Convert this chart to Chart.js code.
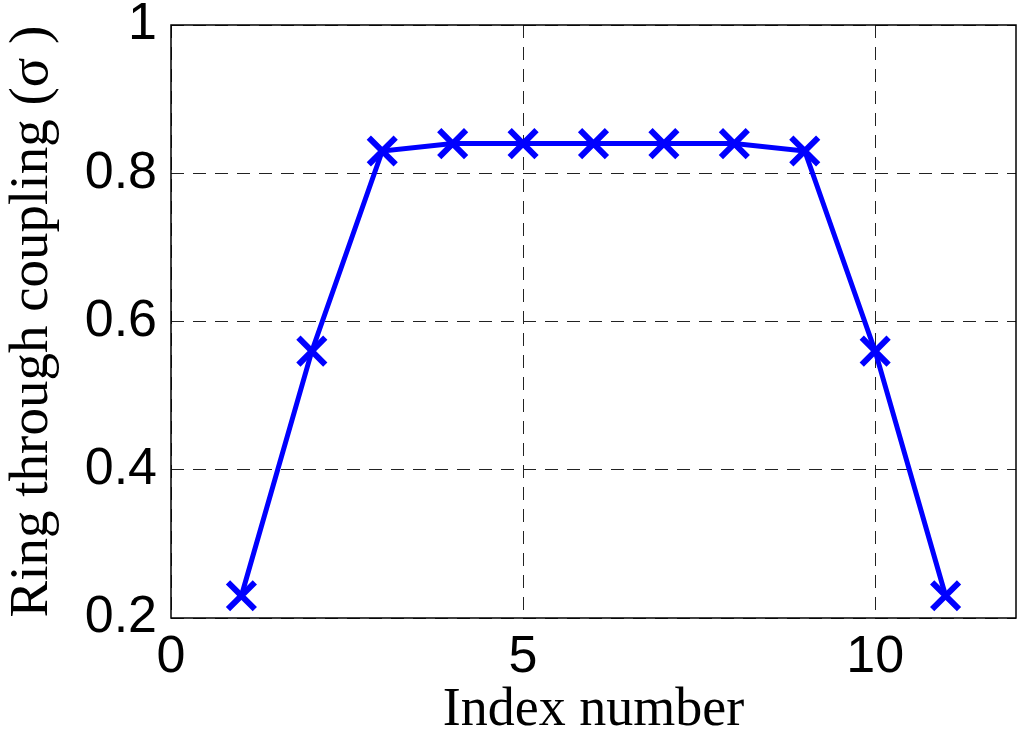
<!DOCTYPE html>
<html>
<head>
<meta charset="utf-8">
<script src="https://cdn.jsdelivr.net/npm/chart.js@4/dist/chart.umd.min.js"></script>
<style>
  html, body { margin: 0; padding: 0; background: #fff; overflow: hidden; }
  /* a bit wider than the window so the plot box reaches the right edge like the original */
  #wrap { width: 1041px; height: 743px; position: relative; }
</style>
</head>
<body>
<div id="wrap"><canvas id="ringChart"></canvas></div>
<script>
// data
const indexNumbers = [1, 2, 3, 4, 5, 6, 7, 8, 9, 10, 11];
const sigmaValues = [0.23, 0.56, 0.83, 0.84, 0.84, 0.84, 0.84, 0.84, 0.83, 0.56, 0.23];
const xTickValues = [0, 5, 10];
const yTickValues = [0.2, 0.4, 0.6, 0.8, 1];

// frame round the plot area (MATLAB style box)
const boxPlugin = {
    id: 'box',
    afterDraw(chart) {
        const a = chart.chartArea;
        const ctx = chart.ctx;
        ctx.save();
        ctx.strokeStyle = '#000';
        ctx.lineWidth = 1.5;
        ctx.strokeRect(a.left, a.top, a.right - a.left, a.bottom - a.top);
        ctx.restore();
    }
};

const ctx = document.getElementById('ringChart').getContext('2d');

new Chart(ctx, {
    type: 'line',
    data: {
        datasets: [{
            data: indexNumbers.map((x, i) => ({ x: x, y: sigmaValues[i] })),
            borderColor: '#0000ff',
            backgroundColor: '#0000ff',
            borderWidth: 5,
            tension: 0,
            fill: false,
            clip: false,
            pointStyle: 'crossRot',
            pointRadius: 19,
            pointBorderWidth: 6,
            pointBorderColor: '#0000ff'
        }]
    },
    options: {
        responsive: true,
        maintainAspectRatio: false,
        animation: false,
        layout: { padding: 0 },
        plugins: {
            legend: { display: false },
            tooltip: { enabled: false }
        },
        scales: {
            x: {
                type: 'linear',
                min: 0,
                max: 12,
                afterBuildTicks: scale => { scale.ticks = xTickValues.map(v => ({ value: v })); },
                afterFit: scale => { scale.height = 125; },
                ticks: {
                    color: '#000',
                    padding: 8,
                    font: { family: 'Liberation Sans', size: 52 }
                },
                grid: {
                    color: '#222',
                    lineWidth: 1,
                    drawTicks: false
                },
                border: { display: false, dash: [13, 9] },
                title: {
                    display: true,
                    text: 'Index number',
                    color: '#000',
                    padding: { top: 0, bottom: 0 },
                    font: { family: 'Liberation Serif', size: 54 }
                }
            },
            y: {
                min: 0.2,
                max: 1,
                afterBuildTicks: scale => { scale.ticks = yTickValues.map(v => ({ value: v })); },
                afterFit: scale => { scale.width = 171; },
                ticks: {
                    color: '#000',
                    padding: 14,
                    font: { family: 'Liberation Sans', size: 52, lineHeight: 0.3 },
                    callback: v => String(v)
                },
                grid: {
                    color: '#222',
                    lineWidth: 1,
                    drawTicks: false
                },
                border: { display: false, dash: [13, 9] },
                title: {
                    display: true,
                    text: 'Ring through coupling (σ )',
                    color: '#000',
                    padding: { top: 0, bottom: 0 },
                    font: { family: 'Liberation Serif', size: 55 }
                }
            }
        }
    },
    plugins: [boxPlugin]
});
</script>
</body>
</html>
